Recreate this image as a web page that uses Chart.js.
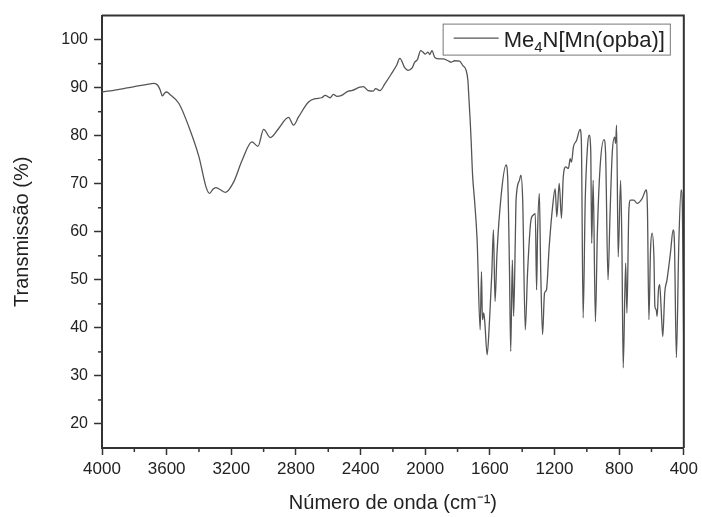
<!DOCTYPE html>
<html>
<head>
<meta charset="utf-8">
<script src="https://cdn.jsdelivr.net/npm/chart.js@4/dist/chart.umd.min.js"></script>
<style>
  html, body { margin: 0; padding: 0; background: #fff; }
  #wrap { width: 702px; height: 517px; }
</style>
</head>
<body>
<div id="wrap"><canvas id="myChart"></canvas></div>
<script>
// IR spectrum (cm-1 / % transmission)
const wavenumbers = [
  4000, 3900, 3800, 3700, 3678, 3655, 3640, 3627, 3612, 3600, 3580, 3524, 3462, 3400, 3355, 3334,
  3315, 3297, 3270, 3236, 3185, 3133, 3072, 3035, 3000, 2958, 2907, 2846, 2815, 2784, 2722, 2681,
  2640, 2619, 2589, 2568, 2548, 2517, 2476, 2455, 2404, 2383, 2353, 2322, 2307, 2280, 2250, 2209,
  2178, 2157, 2126, 2106, 2081, 2065, 2049, 2028, 2014, 2000, 1983, 1972, 1958, 1941, 1911, 1890,
  1859, 1839, 1818, 1787, 1767, 1747, 1736, 1730, 1722, 1716, 1707, 1695, 1679, 1660, 1652, 1646,
  1638, 1631, 1617, 1602, 1588, 1578, 1568, 1556, 1531, 1500, 1490, 1479, 1471, 1461, 1453, 1442,
  1438, 1417, 1408, 1397, 1381, 1367, 1346, 1331, 1319, 1311, 1305, 1294, 1286, 1274, 1262, 1250,
  1233, 1212, 1196, 1186, 1171, 1157, 1146, 1130, 1114, 1103, 1095, 1083, 1064, 1042, 1034, 1023,
  1010, 996, 986, 976, 970, 961, 947, 935, 918, 894, 884, 869, 857, 843, 828, 822,
  816, 806, 791, 783, 775, 760, 752, 740, 730, 709, 689, 658, 633, 625, 616, 606,
  596, 585, 579, 571, 565, 557, 549, 541, 530, 518, 504, 483, 466, 458, 446, 431,
  417, 409, 403, 400
];
const transmission = [
  89.1, 89.6, 90.2, 90.8, 90.9, 90.5, 89.5, 88.3, 88.9, 89.1, 88.6, 86.7, 81.8, 75.6, 69.2, 68.0,
  68.8, 69.2, 68.8, 68.2, 70.4, 74.9, 78.7, 77.8, 81.3, 79.6, 81.5, 83.8, 82.2, 83.9, 87.0, 87.7,
  87.9, 88.4, 87.9, 88.6, 88.2, 88.4, 89.3, 89.4, 90.1, 90.2, 89.4, 89.3, 89.8, 89.4, 90.8, 92.9,
  94.6, 96.1, 94.1, 93.6, 94.1, 95.3, 95.8, 97.7, 97.4, 97.0, 97.4, 96.9, 97.7, 96.3, 96.0, 96.0,
  95.6, 95.3, 95.6, 95.5, 94.6, 93.6, 91.5, 88.0, 83.2, 79.0, 71.8, 66.6, 58.3, 39.6, 51.7, 41.7,
  43.1, 41.0, 34.4, 41.7, 51.4, 60.4, 45.5, 55.5, 67.3, 73.9, 71.4, 52.8, 35.1, 54.1, 42.4, 59.7,
  66.6, 70.7, 71.8, 66.6, 39.6, 51.4, 62.4, 63.5, 63.8, 47.9, 59.7, 68.0, 52.8, 38.6, 47.2, 47.9,
  56.9, 65.2, 69.0, 63.1, 70.1, 62.8, 71.4, 73.5, 73.2, 75.2, 74.5, 77.7, 79.0, 81.3, 79.0, 42.1,
  66.6, 77.7, 80.1, 77.0, 57.6, 70.7, 41.3, 59.7, 73.5, 79.2, 76.3, 50.0, 63.1, 76.3, 79.7, 78.4,
  82.2, 54.8, 70.7, 56.9, 31.7, 53.5, 43.1, 64.5, 66.6, 66.6, 65.9, 66.9, 68.7, 64.5, 41.7, 56.2,
  59.7, 54.8, 44.5, 43.8, 42.4, 47.9, 49.0, 44.5, 38.2, 47.2, 50.0, 55.5, 60.4, 57.6, 33.8, 57.6,
  68.7, 65.2, 45.0, 34.0
];

const xTicks = [4000, 3600, 3200, 2800, 2400, 2000, 1600, 1200, 800, 400];
const xMinorTicks = [3800, 3400, 3000, 2600, 2200, 1800, 1400, 1000, 600];
const yTicks = [20, 30, 40, 50, 60, 70, 80, 90, 100];
const yMinorTicks = [25, 35, 45, 55, 65, 75, 85, 95];

const seriesLabel = "Me₄N[Mn(opba)]";
const axisColor = "#333";
const lineColor = "#555";
const fontFamily = "'Liberation Sans', Arial, sans-serif";

// short ticks between the labelled ones + the closing frame on top/right
const framePlugin = {
  id: "frame",
  afterDraw(chart) {
    const { ctx, chartArea } = chart;
    const xs = chart.scales.x;
    const ys = chart.scales.y;
    ctx.save();
    ctx.strokeStyle = axisColor;
    ctx.lineWidth = 1.5;
    xMinorTicks.forEach((v) => {
      const px = xs.getPixelForValue(v);
      ctx.beginPath();
      ctx.moveTo(px, chartArea.bottom);
      ctx.lineTo(px, chartArea.bottom + 4);
      ctx.stroke();
    });
    yMinorTicks.forEach((v) => {
      const py = ys.getPixelForValue(v);
      ctx.beginPath();
      ctx.moveTo(chartArea.left - 4, py);
      ctx.lineTo(chartArea.left, py);
      ctx.stroke();
    });
    ctx.lineWidth = 2;
    ctx.beginPath();
    ctx.moveTo(chartArea.left, chartArea.top);
    ctx.lineTo(chartArea.right, chartArea.top);
    ctx.lineTo(chartArea.right, chartArea.bottom);
    ctx.stroke();
    ctx.restore();
  },
};

// boxed legend in the upper right corner, with a real subscript
const legendBoxPlugin = {
  id: "legendBox",
  afterDraw(chart) {
    const { ctx, chartArea } = chart;
    const ds = chart.data.datasets[0];
    const big = "22px " + fontFamily;
    const small = "15px " + fontFamily;
    const parts = [];
    for (const ch of ds.label) {
      const code = ch.charCodeAt(0);
      const sub = code >= 0x2080 && code <= 0x2089;
      parts.push({ text: sub ? String(code - 0x2080) : ch, sub: sub });
    }
    ctx.save();
    let textW = 0;
    parts.forEach((p) => {
      ctx.font = p.sub ? small : big;
      p.w = ctx.measureText(p.text).width;
      textW += p.w;
    });
    const lineLen = 45;
    const boxW = 11 + lineLen + 5 + textW + 5;
    const boxH = 31;
    const right = chartArea.right - 14;
    const top = chartArea.top + 8;
    const left = right - boxW;
    const midY = top + boxH / 2;

    ctx.strokeStyle = "#777";
    ctx.lineWidth = 1;
    ctx.strokeRect(left + 0.5, top + 0.5, boxW, boxH);

    ctx.strokeStyle = ds.borderColor;
    ctx.lineWidth = 1.2;
    ctx.beginPath();
    ctx.moveTo(left + 11, midY - 1);
    ctx.lineTo(left + 11 + lineLen, midY - 1);
    ctx.stroke();

    ctx.fillStyle = "#222";
    ctx.textBaseline = "alphabetic";
    let x = left + 11 + lineLen + 5;
    const base = midY + 7.5;
    parts.forEach((p) => {
      ctx.font = p.sub ? small : big;
      ctx.fillText(p.text, x, p.sub ? base + 5 : base);
      x += p.w;
    });
    ctx.restore();
  },
};

const points = wavenumbers.map((w, i) => ({ x: w, y: transmission[i] }));

const chartConfig = {
  type: "line",
  data: {
    datasets: [
      {
        label: seriesLabel,
        data: points,
        borderColor: lineColor,
        backgroundColor: lineColor,
        borderWidth: 1.3,
        pointRadius: 0,
        cubicInterpolationMode: "monotone",
        fill: false,
      },
    ],
  },
  options: {
    responsive: true,
    maintainAspectRatio: false,
    animation: false,
    layout: { padding: { top: 15, right: 15, left: 0, bottom: 0 } },
    plugins: {
      legend: { display: false },
      tooltip: { enabled: false },
    },
    scales: {
      x: {
        type: "linear",
        reverse: true,
        min: 400,
        max: 4000,
        afterFit: (scale) => { scale.height = 69; },
        afterBuildTicks: (scale) => { scale.ticks = xTicks.map((v) => ({ value: v })); },
        grid: { drawOnChartArea: false, drawTicks: true, tickLength: 7, tickColor: axisColor, tickWidth: 1.5 },
        border: { display: true, color: axisColor, width: 2 },
        ticks: {
          color: "#222",
          padding: 4,
          maxRotation: 0,
          font: { family: fontFamily, size: 17 },
          callback: (v) => String(v),
        },
        title: {
          display: true,
          text: "Número de onda (cm⁻¹)",
          color: "#222",
          padding: { top: 0, bottom: 2 },
          font: { family: fontFamily, size: 20 },
        },
      },
      y: {
        type: "linear",
        min: 15,
        max: 105,
        afterFit: (scale) => { scale.width = 102; },
        afterBuildTicks: (scale) => { scale.ticks = yTicks.map((v) => ({ value: v })); },
        grid: { drawOnChartArea: false, drawTicks: true, tickLength: 8, tickColor: axisColor, tickWidth: 1.5 },
        border: { display: true, color: axisColor, width: 2 },
        ticks: {
          color: "#222",
          padding: 6,
          font: { family: fontFamily, size: 16 },
          callback: (v) => String(v),
        },
        title: {
          display: true,
          text: "Transmissão (%)",
          color: "#222",
          padding: { top: 10, bottom: 0 },
          font: { family: fontFamily, size: 20 },
        },
      },
    },
  },
  plugins: [framePlugin, legendBoxPlugin],
};

const ctx = document.getElementById("myChart").getContext("2d");
const myChart = new Chart(ctx, chartConfig);
</script>
</body>
</html>
